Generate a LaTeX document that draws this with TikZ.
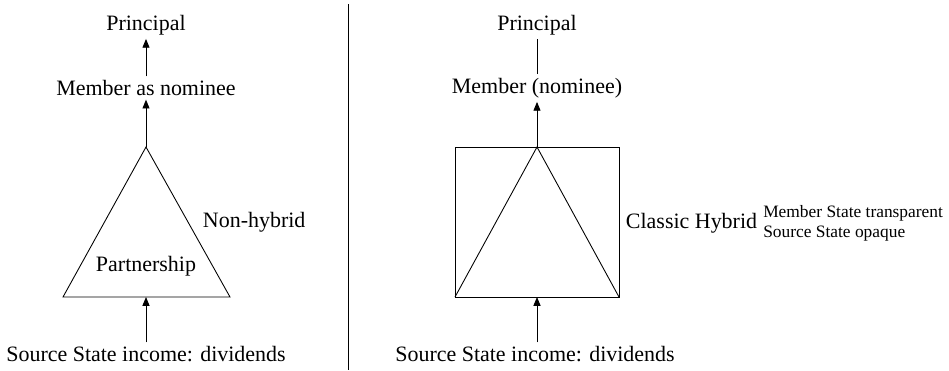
\documentclass[tikz,border=0pt]{standalone}
\usepackage{fontspec}
\setmainfont{Liberation Serif}
\usetikzlibrary{arrows.meta,positioning}
\tikzset{
  lbl/.style={inner sep=2pt, font=\fontsize{12.5}{15}\selectfont},
  note/.style={inner sep=1pt, align=left, font=\fontsize{9.9}{11.5}\selectfont},
  flow/.style={-{Triangle[width=4pt,length=5pt]}},
}
\begin{document}
\begin{tikzpicture}[x=0.02cm, y=-0.02cm, line width=0.5pt]
		\useasboundingbox (0,0) rectangle (949,370);

		% non-hybrid partnership
		\node[lbl] (lprin) at (146, 25) {Principal};
		\node[lbl] (lmem) at (146, 88) {Member as nominee};
		\node[lbl] (lsrc) at (146, 354) {Source State income: dividends};
		\coordinate (ltop) at (146, 147);
		\coordinate (lbl) at (63, 297);
		\coordinate (lbr) at (230, 297);
		\coordinate (lbase) at (146, 297);
		\draw (ltop) -- (lbr) -- (lbl) -- cycle;
		\node[lbl] (lpart) at (146, 266) {Partnership};
		\node[lbl, anchor=west] (lnon) at (199, 222) {Non-hybrid};
		\draw[flow] (lmem) -- (lprin);
		\draw[flow] (ltop) -- (lmem);
		\draw[flow] (lsrc) -- (lbase);

		\draw (348, 4) -- (348, 370);

		% classic hybrid
		\begin{scope}[shift={(391,0)}]
			\node[lbl] (rprin) at (146, 25) {Principal};
			\node[lbl] (rmem) at (146, 88) {Member (nominee)};
			\node[lbl] (rsrc) at (144, 354) {Source State income: dividends};
			\coordinate (rtop) at (146, 147);
			\coordinate (rbl) at (64, 297);
			\coordinate (rbr) at (228, 297);
			\coordinate (rbase) at (146, 297);
			\draw (rbl) rectangle (rbr |- rtop);
			\draw (rbl) -- (rtop) -- (rbr);
			\node[lbl, anchor=west] (rclass) at (231, 223) {Classic Hybrid};
			\node[note, anchor=west] (rnote) at (rclass.east) {Member State transparent\\Source State opaque};
			\draw (rmem) -- (rprin);
			\draw[flow] (rtop) -- (rmem);
			\draw[flow] (rsrc.north -| rbase) -- (rbase);
		\end{scope}
	\end{tikzpicture}
\end{document}
